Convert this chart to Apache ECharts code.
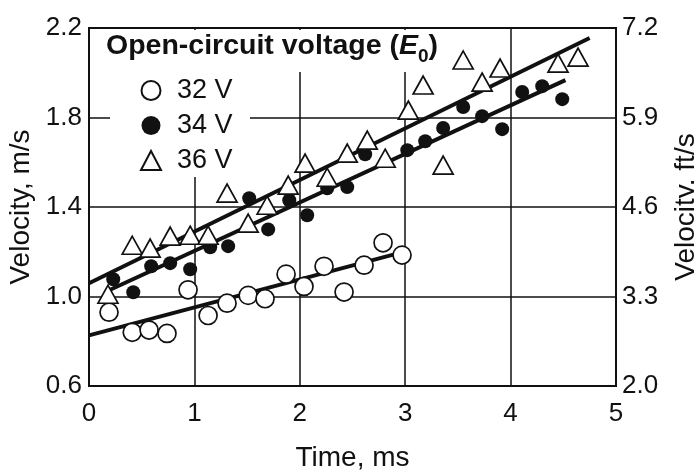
<!DOCTYPE html>
<html><head><meta charset="utf-8">
<script src="https://cdn.jsdelivr.net/npm/echarts/dist/echarts.min.js"></script>
<style>html,body{margin:0;padding:0;background:#fff}#c{width:694px;height:471px}</style>
</head><body><div id="c"></div>
<script>
// Tick labels
const xTicks = ['0', '1', '2', '3', '4', '5'];
const leftTicks = ['0.6', '1.0', '1.4', '1.8', '2.2'];
const rightTicks = ['2.0', '3.3', '4.6', '5.9', '7.2'];
const seriesNames = ['32 V', '34 V', '36 V'];

// 32 V (open circles): time (ms), velocity (m/s)
const t32 = [0.19, 0.41, 0.57, 0.74, 0.94, 1.13, 1.31, 1.51, 1.67, 1.87, 2.04, 2.23, 2.42, 2.61, 2.79, 2.97];
const v32 = [0.93, 0.84, 0.85, 0.835, 1.03, 0.915, 0.97, 1.005, 0.99, 1.10, 1.045, 1.135, 1.02, 1.14, 1.24, 1.185];

// 34 V (filled circles)
const t34 = [0.23, 0.42, 0.59, 0.77, 0.96, 1.15, 1.32, 1.52, 1.70, 1.90, 2.07, 2.26, 2.45, 2.62, 3.02, 3.19, 3.36, 3.55, 3.73, 3.92, 4.11, 4.30, 4.49];
const v34 = [1.077, 1.019, 1.135, 1.149, 1.122, 1.22, 1.225, 1.439, 1.30, 1.43, 1.363, 1.484, 1.489, 1.636, 1.654, 1.694, 1.753, 1.847, 1.806, 1.748, 1.914, 1.94, 1.882];

// 36 V (open triangles)
const t36 = [0.18, 0.41, 0.58, 0.77, 0.96, 1.13, 1.31, 1.51, 1.69, 1.89, 2.05, 2.26, 2.45, 2.64, 2.81, 3.03, 3.17, 3.36, 3.55, 3.73, 3.90, 4.45, 4.64];
const v36 = [1.01, 1.229, 1.216, 1.27, 1.274, 1.274, 1.462, 1.328, 1.408, 1.498, 1.596, 1.533, 1.641, 1.699, 1.618, 1.833, 1.945, 1.587, 2.057, 1.958, 2.021, 2.043, 2.07];

// Fitted lines (end points)
const fit32t = [0, 2.95];
const fit32v = [0.826, 1.195];
const fit34t = [0.2, 4.52];
const fit34v = [1.03, 1.967];
const fit36t = [0, 4.75];
const fit36v = [1.059, 2.155];

const pairs = (xs, ys) => xs.map((x, i) => [x, ys[i]]);
const FONT = "'Liberation Sans', Arial, Helvetica, sans-serif";
const INK = '#111';

const chart = echarts.init(document.getElementById('c'), null, { renderer: 'canvas' });

const fitStyle = { color: INK, width: 4 };
const lineSeries = (name, xs, ys) => ({
  name: name, type: 'line', data: pairs(xs, ys), showSymbol: false, symbol: 'none',
  lineStyle: fitStyle, itemStyle: { color: INK }, z: 2, silent: true, animation: false
});

chart.setOption({
  animation: false,
  textStyle: { fontFamily: FONT, color: INK },
  grid: { left: 89, right: 78, top: 28, bottom: 85, containLabel: false, outerBoundsMode: 'none',
          show: true, borderColor: INK, borderWidth: 2, backgroundColor: 'transparent' },
  xAxis: {
    type: 'value', min: 0, max: 5, interval: 1,
    axisLine: { show: true, lineStyle: { color: INK, width: 2 } },
    axisTick: { show: false },
    axisLabel: { fontSize: 26, color: INK, margin: 15, formatter: v => xTicks[Math.round(v)] },
    splitLine: { show: true, lineStyle: { color: INK, width: 1.5 } },
    name: 'Time, ms', nameLocation: 'middle', nameGap: 58,
    nameTextStyle: { fontSize: 28, color: INK, fontFamily: FONT }
  },
  yAxis: [
    {
      type: 'value', min: 0.6, max: 2.2, interval: 0.4, position: 'left',
      axisLine: { show: true, lineStyle: { color: INK, width: 2 } },
      axisTick: { show: false },
      axisLabel: { fontSize: 26, color: INK, margin: 7, formatter: v => leftTicks[Math.round((v - 0.6) / 0.4)] },
      splitLine: { show: true, lineStyle: { color: INK, width: 1.5 } },
      name: 'Velocity, m/s', nameLocation: 'middle', nameGap: 46, nameRotate: 90,
      nameTextStyle: { fontSize: 28, color: INK, fontFamily: FONT }
    },
    {
      type: 'value', min: 0.6, max: 2.2, interval: 0.4, position: 'right',
      axisLine: { show: true, lineStyle: { color: INK, width: 2 } },
      axisTick: { show: false },
      axisLabel: { fontSize: 26, color: INK, margin: 6, formatter: v => rightTicks[Math.round((v - 0.6) / 0.4)] },
      splitLine: { show: false },
      name: 'Velocity, ft/s', nameLocation: 'middle', nameGap: 56, nameRotate: 90,
      nameTextStyle: { fontSize: 28, color: INK, fontFamily: FONT }
    }
  ],
  legend: {
    data: seriesNames, orient: 'vertical', left: 135, top: 72,
    itemWidth: 20, itemHeight: 19, itemGap: 8,
    textStyle: { fontSize: 27, color: INK, fontFamily: FONT, padding: [0, 0, 0, 11] },
    selectedMode: false, z: 5
  },
  graphic: [
    { type: 'rect', z: 1, shape: { x: 110, y: 30, width: 345, height: 42 }, style: { fill: '#fff' }, silent: true },
    { type: 'rect', z: 1, shape: { x: 110, y: 30, width: 140, height: 147 }, style: { fill: '#fff' }, silent: true },
    {
      type: 'text', z: 6, left: 106, top: 32,
      style: {
        text: '{b|Open-circuit voltage (}{i|E}{s|0}{b|)}',
        rich: {
          b: { fontSize: 28.5, fontWeight: 'bold', fontFamily: FONT, fill: INK, verticalAlign: 'bottom' },
          i: { fontSize: 28.5, fontWeight: 'bold', fontStyle: 'italic', fontFamily: FONT, fill: INK, verticalAlign: 'bottom' },
          s: { fontSize: 19, fontWeight: 'bold', fontFamily: FONT, fill: INK, verticalAlign: 'bottom', padding: [0, 0, -5, 0] }
        }
      }
    }
  ],
  series: [
    lineSeries('fit32', fit32t, fit32v),
    lineSeries('fit34', fit34t, fit34v),
    lineSeries('fit36', fit36t, fit36v),
    {
      name: seriesNames[0], type: 'scatter', data: pairs(t32, v32), symbol: 'circle', symbolSize: 18, z: 3,
      itemStyle: { color: '#fff', borderColor: INK, borderWidth: 1.7, opacity: 1 }
    },
    {
      name: seriesNames[1], type: 'scatter', data: pairs(t34, v34), symbol: 'circle', symbolSize: 14, z: 3,
      itemStyle: { color: INK, borderColor: INK, borderWidth: 0, opacity: 1 }
    },
    {
      name: seriesNames[2], type: 'scatter', data: pairs(t36, v36), symbol: 'triangle', symbolSize: [20, 18], z: 3,
      itemStyle: { color: '#fff', borderColor: INK, borderWidth: 1.7, opacity: 1 }
    }
  ]
});
</script>
</body></html>
